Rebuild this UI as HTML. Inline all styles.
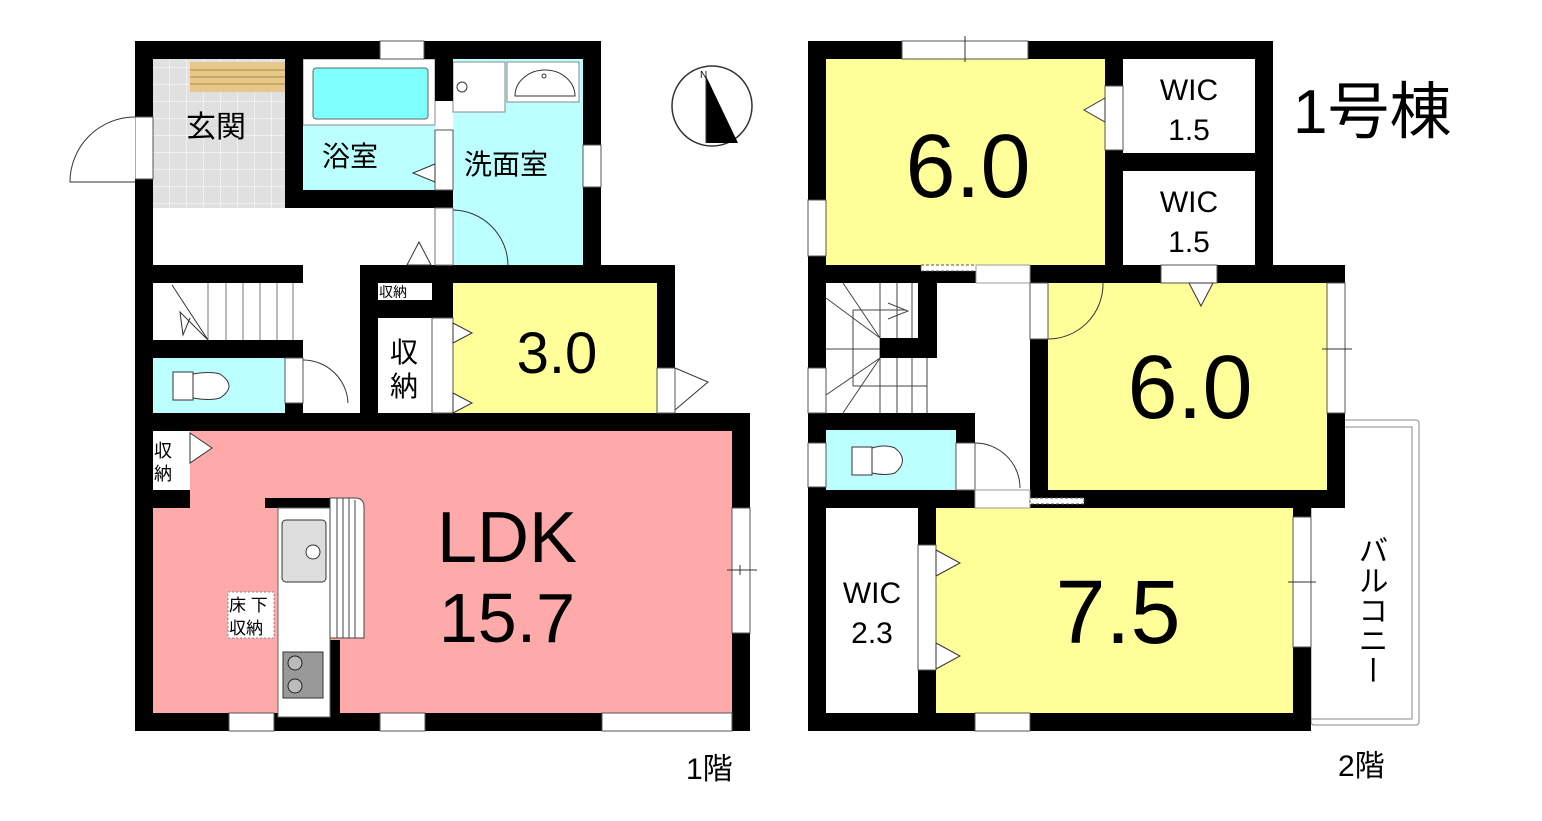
<!DOCTYPE html>
<html><head><meta charset="utf-8"><style>
html,body{margin:0;padding:0;background:#fff;}
svg{display:block;}
text{font-family:"Liberation Sans","Noto Sans CJK JP",sans-serif;fill:#000;}
</style></head><body>
<svg width="1542" height="821" viewBox="0 0 1542 821" xmlns="http://www.w3.org/2000/svg">
<defs>
<pattern id="tile" width="17" height="17" patternUnits="userSpaceOnUse"><rect width="17" height="17" fill="#e0e0e0"/><path d="M17 0V17H0" fill="none" stroke="#fff" stroke-width="1"/></pattern>
</defs>
<!-- ===== 1F ===== -->
<rect x="153" y="59" width="132" height="149" fill="url(#tile)"/>
<rect x="190" y="62" width="98" height="30" fill="#e6c88a"/>
<g stroke="#b08a40" stroke-width="1"><line x1="190" y1="70" x2="288" y2="70"/><line x1="190" y1="77" x2="288" y2="77"/><line x1="190" y1="84" x2="288" y2="84"/></g>
<rect x="303" y="59" width="132" height="131" fill="#bff"/>
<rect x="303" y="59" width="132" height="66" fill="#fff" stroke="#888"/>
<rect x="313" y="68" width="115" height="51" rx="3" fill="#80ffff" stroke="#666"/>
<rect x="453" y="59" width="130" height="206" fill="#bff"/>
<rect x="453" y="62" width="52" height="50" fill="#fff" stroke="#888"/>
<circle cx="462" cy="87" r="5" fill="#fff" stroke="#333"/>
<rect x="507" y="62" width="72" height="40" fill="#fff" stroke="#888"/>
<path d="M515 96 A30 26 0 0 1 575 96 Z" fill="#fff" stroke="#333"/>
<circle cx="544" cy="76" r="2" fill="#fff" stroke="#333"/>
<rect x="153" y="208" width="282" height="57" fill="#fff"/>
<rect x="153" y="283" width="140" height="57" fill="#fff"/>
<g stroke="#777"><line x1="208" y1="283" x2="208" y2="340"/><line x1="226" y1="283" x2="226" y2="340"/><line x1="243" y1="283" x2="243" y2="340"/><line x1="260" y1="283" x2="260" y2="340"/><line x1="277" y1="283" x2="277" y2="340"/><line x1="293" y1="283" x2="293" y2="340"/></g>
<polyline points="172,285 208,340 180,312 183,335 190,318" fill="none" stroke="#333"/>
<rect x="153" y="358" width="132" height="55" fill="#bff"/>
<rect x="173" y="372" width="20" height="28" fill="#fff" stroke="#333"/>
<path d="M193 374 Q210 371 220 374 Q238 386 220 398 Q210 401 193 398 Z" fill="#fff" stroke="#333"/>
<rect x="378" y="283" width="54" height="17" fill="#fff"/>
<rect x="378" y="318" width="54" height="95" fill="#fff"/>
<rect x="453" y="283" width="204" height="130" fill="#ffff99"/>
<rect x="153" y="431" width="579" height="282" fill="#ffaaaa"/>
<rect x="153" y="431" width="37" height="59" fill="#fff"/>
<g fill="#000">
<rect x="135" y="41" width="466" height="18"/>
<rect x="135" y="41" width="18" height="690"/>
<rect x="583" y="41" width="18" height="242"/>
<rect x="285" y="59" width="18" height="149"/>
<rect x="285" y="190" width="168" height="18"/>
<rect x="435" y="59" width="18" height="42"/>
<rect x="360" y="265" width="315" height="18"/>
<rect x="657" y="265" width="18" height="148"/>
<rect x="153" y="265" width="150" height="18"/>
<rect x="153" y="340" width="150" height="18"/>
<rect x="285" y="358" width="18" height="55"/>
<rect x="360" y="265" width="18" height="148"/>
<rect x="378" y="300" width="75" height="18"/>
<rect x="432" y="283" width="21" height="17"/>
<rect x="135" y="413" width="615" height="18"/>
<rect x="732" y="413" width="18" height="318"/>
<rect x="135" y="713" width="615" height="18"/>
<rect x="153" y="490" width="37" height="18"/>
<rect x="265" y="498" width="75" height="10"/>
<rect x="330" y="640" width="10" height="73"/>
</g>
<rect x="380" y="41" width="44" height="18" fill="#fff" stroke="#555"/>
<rect x="135" y="117" width="18" height="62" fill="#fff" stroke="#555"/>
<path d="M135 117 A65 65 0 0 0 70 182 L135 182" fill="#fff" stroke="#333"/>
<rect x="583" y="145" width="18" height="42" fill="#fff" stroke="#555"/>
<rect x="435" y="130" width="18" height="60" fill="#fff" stroke="#555"/>
<polygon points="435,164 413,173 435,182" fill="#fff" stroke="#333"/>
<rect x="435" y="208" width="18" height="57" fill="#fff" stroke="#777"/>
<path d="M453 210 A56 56 0 0 1 508 265" fill="none" stroke="#333"/>
<polygon points="407,265 419,242 431,265" fill="#fff" stroke="#333"/>
<path d="M303 360 A45 45 0 0 1 348 403" fill="none" stroke="#333"/>
<rect x="285" y="358" width="18" height="45" fill="#fff" stroke="#555"/>
<rect x="432" y="318" width="21" height="95" fill="#fff" stroke="#555"/>
<polygon points="453,323 472,333 453,343" fill="#fff" stroke="#333"/>
<polygon points="453,393 472,403 453,413" fill="#fff" stroke="#333"/>
<rect x="657" y="368" width="18" height="45" fill="#fff" stroke="#555"/>
<path d="M675 368 L708 382 L675 410" fill="none" stroke="#333"/>
<polygon points="190,433 212,448 190,463" fill="#fff" stroke="#333"/>
<rect x="732" y="508" width="18" height="125" fill="#fff" stroke="#555"/>
<line x1="727" y1="570" x2="757" y2="570" stroke="#333"/><line x1="740" y1="565" x2="740" y2="575" stroke="#333"/>
<rect x="229" y="713" width="45" height="18" fill="#fff" stroke="#555"/>
<rect x="380" y="713" width="45" height="18" fill="#fff" stroke="#555"/>
<rect x="602" y="713" width="130" height="18" fill="#fff" stroke="#555"/>
<rect x="278" y="508" width="52" height="209" fill="#fff" stroke="#666"/>
<rect x="282" y="520" width="44" height="62" rx="4" fill="#ddd" stroke="#333"/>
<circle cx="313" cy="552" r="7" fill="#fff" stroke="#333"/>
<rect x="283" y="652" width="40" height="46" fill="#999" stroke="#333"/>
<circle cx="295" cy="663" r="7" fill="#bbb" stroke="#222"/><circle cx="295" cy="686" r="7" fill="#bbb" stroke="#222"/>
<path d="M330 498 L355 498 Q364 498 364 507 L364 638 L330 638 Z" fill="#fff" stroke="#444"/>
<g stroke="#444"><line x1="337" y1="498" x2="337" y2="638"/><line x1="343" y1="498" x2="343" y2="638"/><line x1="349" y1="498" x2="349" y2="638"/><line x1="355" y1="500" x2="355" y2="638"/></g>
<rect x="228" y="592" width="46" height="46" fill="#fff" stroke="#888" stroke-dasharray="2,2"/>
<text x="186" y="137" font-size="30">玄関</text>
<text x="322" y="166" font-size="28">浴室</text>
<text x="464" y="174" font-size="28">洗面室</text>
<text x="379" y="297" font-size="14">収納</text>
<text x="390" y="362" font-size="28">収</text>
<text x="390" y="396" font-size="28">納</text>
<text x="557" y="373" font-size="58" text-anchor="middle">3.0</text>
<text x="154" y="457" font-size="18">収</text>
<text x="154" y="480" font-size="18">納</text>
<text x="229" y="611" font-size="17">床 下</text>
<text x="229" y="634" font-size="17">収納</text>
<text x="507" y="562" font-size="72" text-anchor="middle">LDK</text>
<text x="507" y="642" font-size="70" text-anchor="middle">15.7</text>
<text x="686" y="779" font-size="30">1階</text>
<circle cx="712" cy="106" r="40" fill="#fff" stroke="#333" stroke-width="1.5"/>
<polygon points="706,76 738,143 706,143" fill="#000"/>
<line x1="706" y1="76" x2="706" y2="143" stroke="#333"/>
<text x="700" y="78" font-size="10">N</text>

<!-- ===== 2F ===== -->
<!-- balcony first -->
<rect x="1311" y="420" width="108" height="305" rx="3" fill="#fff" stroke="#888"/>
<rect x="1311" y="427" width="101" height="292" fill="#fff" stroke="#888"/>
<rect x="826" y="59" width="279" height="206" fill="#ffff99"/>
<rect x="1123" y="59" width="132" height="94" fill="#fff"/>
<rect x="1123" y="171" width="132" height="94" fill="#fff"/>
<rect x="1048" y="283" width="279" height="207" fill="#ffff99"/>
<rect x="936" y="508" width="357" height="205" fill="#ffff99"/>
<rect x="826" y="508" width="92" height="205" fill="#fff"/>
<rect x="826" y="430" width="130" height="60" fill="#bff"/>
<rect x="852" y="447" width="20" height="28" fill="#fff" stroke="#333"/>
<path d="M872 448 Q885 444 895 448 Q910 460 895 473 Q885 476 872 473 Z" fill="#fff" stroke="#333"/>
<g stroke="#444" fill="none">
<line x1="826" y1="349" x2="880" y2="349"/>
<line x1="853" y1="310" x2="853" y2="386"/><line x1="853" y1="310" x2="906" y2="310"/><line x1="853" y1="386" x2="927" y2="386"/>
<line x1="880" y1="283" x2="880" y2="413"/><line x1="897" y1="283" x2="897" y2="338"/><line x1="912" y1="283" x2="912" y2="338"/>
<line x1="897" y1="358" x2="897" y2="413"/><line x1="912" y1="358" x2="912" y2="413"/><line x1="927" y1="358" x2="927" y2="413"/>
<line x1="880" y1="338" x2="843" y2="283"/><line x1="880" y1="338" x2="826" y2="298"/>
<line x1="880" y1="358" x2="826" y2="395"/><line x1="880" y1="358" x2="843" y2="413"/>
<polyline points="888,303 908,311 888,319"/>
</g>
<g fill="#000">
<rect x="808" y="41" width="465" height="18"/>
<rect x="808" y="41" width="18" height="690"/>
<rect x="1105" y="41" width="18" height="224"/>
<rect x="1123" y="153" width="132" height="18"/>
<rect x="1255" y="41" width="18" height="242"/>
<rect x="808" y="265" width="537" height="18"/>
<rect x="1327" y="265" width="18" height="243"/>
<rect x="1030" y="283" width="18" height="225"/>
<rect x="880" y="338" width="57" height="20"/>
<rect x="918" y="283" width="19" height="75"/>
<rect x="808" y="413" width="167" height="17"/>
<rect x="956" y="413" width="19" height="77"/>
<rect x="808" y="490" width="537" height="18"/>
<rect x="1293" y="490" width="18" height="241"/>
<rect x="918" y="508" width="18" height="205"/>
<rect x="808" y="713" width="503" height="18"/>
</g>
<rect x="902" y="41" width="126" height="18" fill="#fff" stroke="#555"/>
<line x1="965" y1="36" x2="965" y2="62" stroke="#333"/>
<rect x="808" y="200" width="18" height="56" fill="#fff" stroke="#555"/>
<rect x="1105" y="86" width="18" height="64" fill="#fff" stroke="#555"/>
<polygon points="1105,98 1084,110 1105,122" fill="#fff" stroke="#333"/>
<rect x="921" y="265" width="56" height="6" fill="#fff" stroke="#555" stroke-dasharray="3,2"/>
<rect x="976" y="265" width="54" height="18" fill="#fff" stroke="#999"/>
<rect x="1030" y="283" width="18" height="56" fill="#fff" stroke="#555"/>
<path d="M1048 339 A55 55 0 0 0 1103 283" fill="none" stroke="#333"/>
<rect x="1161" y="265" width="56" height="18" fill="#fff" stroke="#555"/>
<polygon points="1189,283 1213,283 1201,306" fill="#fff" stroke="#333"/>
<rect x="1327" y="283" width="18" height="130" fill="#fff" stroke="#555"/>
<line x1="1322" y1="349" x2="1352" y2="349" stroke="#333"/>
<rect x="808" y="368" width="18" height="45" fill="#fff" stroke="#555"/>
<rect x="808" y="443" width="18" height="44" fill="#fff" stroke="#555"/>
<rect x="956" y="443" width="19" height="47" fill="#fff" stroke="#555"/>
<path d="M975 443 A45 45 0 0 1 1020 488" fill="none" stroke="#333"/>
<rect x="975" y="490" width="55" height="18" fill="#fff" stroke="#999"/>
<rect x="1030" y="498" width="54" height="6" fill="#fff" stroke="#555" stroke-dasharray="3,2"/>
<rect x="918" y="545" width="18" height="125" fill="#fff" stroke="#555"/>
<polygon points="936,550 960,563 936,576" fill="#fff" stroke="#333"/>
<polygon points="936,643 960,656 936,669" fill="#fff" stroke="#333"/>
<rect x="1293" y="517" width="18" height="130" fill="#fff" stroke="#555"/>
<line x1="1288" y1="582" x2="1316" y2="582" stroke="#333"/>
<rect x="975" y="713" width="55" height="18" fill="#fff" stroke="#555"/>
<text x="1189" y="100" font-size="30" text-anchor="middle">WIC</text>
<text x="1189" y="140" font-size="30" text-anchor="middle">1.5</text>
<text x="1189" y="212" font-size="30" text-anchor="middle">WIC</text>
<text x="1189" y="252" font-size="30" text-anchor="middle">1.5</text>
<text x="968" y="197" font-size="90" text-anchor="middle">6.0</text>
<text x="1190" y="418" font-size="90" text-anchor="middle">6.0</text>
<text x="1118" y="643" font-size="90" text-anchor="middle">7.5</text>
<text x="872" y="603" font-size="30" text-anchor="middle">WIC</text>
<text x="872" y="643" font-size="30" text-anchor="middle">2.3</text>
<text x="1370" y="535" font-size="30" writing-mode="tb">バルコニー</text>
<text x="1293" y="133" font-size="62">1号棟</text>
<text x="1338" y="776" font-size="30">2階</text>
</svg>
</body></html>
